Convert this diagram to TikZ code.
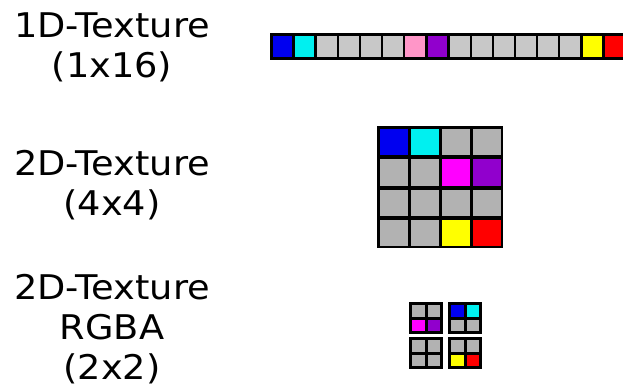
\documentclass[tikz,border=0pt]{standalone}
\usepackage{fontspec}
\setmainfont{DejaVu Sans}
\newfontfamily\texlabelfont{DejaVu Sans}[FakeStretch=1.08]
\usepackage{xcolor}
\usepackage{tikz}
\usetikzlibrary{positioning}

\definecolor{stripgray}{RGB}{200,200,200}
\definecolor{gridgray}{RGB}{178,178,178}
\definecolor{texblue}{RGB}{0,0,240}
\definecolor{texcyan}{RGB}{0,240,240}
\definecolor{texpink}{RGB}{255,150,200}
\definecolor{texmagenta}{RGB}{255,0,255}
\definecolor{texpurple}{RGB}{145,0,205}
\definecolor{texyellow}{RGB}{255,255,0}
\definecolor{texred}{RGB}{255,0,0}

\tikzset{
  texlabel/.style={font=\texlabelfont\fontsize{34}{40}\selectfont, align=center, anchor=base},
  texframe/.style={fill=black}
}

\begin{document}
\begin{tikzpicture}[x=1pt, y=-1pt]
\useasboundingbox (0,0) rectangle (623,387);

% Labels (anchored at the baseline of the last line)
\node[texlabel] (lbl1d) at (112,78) {1D-Texture\\(1x16)};
\node[texlabel] (lbl2d) at (112,216) {2D-Texture\\(4x4)};
\node[texlabel] (lblrgba) at (112,379) {2D-Texture\\RGBA\\(2x2)};

% 1D texture (1x16)
\fill[texframe] (270,33) rectangle (626,60);
\foreach \c [count=\i from 0] in {texblue,texcyan,stripgray,stripgray,stripgray,stripgray,texpink,texpurple,
    stripgray,stripgray,stripgray,stripgray,stripgray,stripgray,texyellow,texred}
  \fill[\c] ({272.5+22.15*\i},36) rectangle +(19.8,21.5);

% 2D texture (4x4)
\fill[texframe] (377,126) rectangle (503,248);
\foreach \row [count=\j from 0] in {{texblue,texcyan,gridgray,gridgray},{gridgray,gridgray,texmagenta,texpurple},
    {gridgray,gridgray,gridgray,gridgray},{gridgray,gridgray,texyellow,texred}}
  \foreach \c [count=\i from 0] in \row
    \fill[\c] ({380+31*\i},{129+30.3*\j}) rectangle +(27.5,26.5);

% 2D texture RGBA (2x2)
\foreach \bx/\by/\cols in {409/302/{gridgray,gridgray,texmagenta,texpurple},
    448/302/{texblue,texcyan,gridgray,gridgray},
    409/337/{gridgray,gridgray,gridgray,gridgray},
    448/337/{gridgray,gridgray,texyellow,texred}} {
  \fill[texframe] (\bx,\by) rectangle +(34,32);
  \foreach \c [count=\k from 0] in \cols {
    \pgfmathtruncatemacro{\ci}{mod(\k,2)}
    \pgfmathtruncatemacro{\cj}{int(\k/2)}
    \fill[\c] ({\bx+3+15.5*\ci},{\by+3+14.5*\cj}) rectangle +(12.5,11.5);
  }
}
\end{tikzpicture}
\end{document}
